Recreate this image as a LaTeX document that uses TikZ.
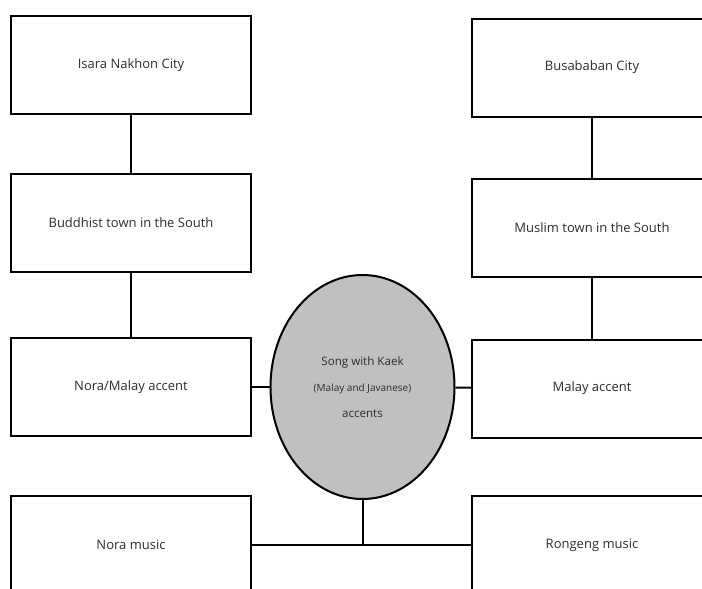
\documentclass[tikz,border=0pt]{standalone}
\usepackage{fontspec}
\setmainfont{Open Sans}
\usetikzlibrary{shapes.geometric}
\definecolor{txt}{RGB}{45,45,45}
\definecolor{ellfill}{RGB}{192,192,192}
\begin{document}
\begin{tikzpicture}[x=1pt,y=-1pt,
  box/.style={draw=black,line width=2pt,minimum width=240pt,minimum height=98pt,inner sep=0pt,
    font=\fontsize{13}{15}\selectfont,text=txt,anchor=center},
  link/.style={draw=black,line width=2pt}]
\useasboundingbox (0,0) rectangle (702,589);
\clip (0,0) rectangle (702,589);
\fill[white] (0,0) rectangle (702,589);
% left column
\node[box] (l1) at (131,65) {Isara Nakhon City};
\node[box] (l2) at (131,223) {Buddhist town in the South};
\node[box] (l3) at (131,387) {Nora/Malay accent};
\node[box] (l4) at (131,545) {Nora music};
% right column
\node[box] (r1) at (592,67.5) {Busababan City};
\node[box] (r2) at (592,228) {Muslim town in the South};
\node[box] (r3) at (592,388.5) {Malay accent};
\node[box] (r4) at (592,545) {Rongeng music};
% centre ellipse
\node[ellipse,draw=black,line width=2pt,fill=ellfill,minimum width=184pt,minimum height=224pt,inner sep=0pt,text=txt,
  align=center,font=\fontsize{11.6}{26}\selectfont] (e) at (362.5,387) {Song with Kaek\\
  {\fontsize{10}{12}\selectfont (Malay and Javanese)}\\
  accents};
% connectors
\draw[link] (l1) -- (l2);
\draw[link] (l2) -- (l3);
\draw[link] (r1) -- (r2);
\draw[link] (r2) -- (r3);
\draw[link] (l3) -- (e);
\draw[link] (e) -- (r3);
\coordinate (j) at (e.south |- l4.east);
\draw[link] (e.south) -- (j);
\draw[link] (l4.east) -- (r4.west);
\end{tikzpicture}
\end{document}
